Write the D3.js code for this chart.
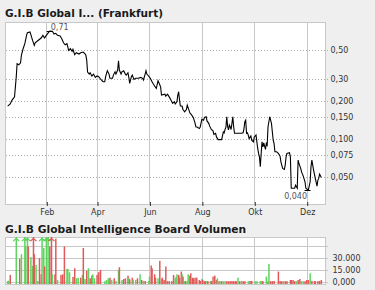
<!DOCTYPE html>
<html>
<head>
<meta charset="utf-8">
<script src="https://cdn.jsdelivr.net/npm/d3@7"></script>
<style>
  body { margin: 0; background: #efefef; }
  text { font-family: "DejaVu Sans", Verdana, sans-serif; }
</style>
</head>
<body>
<div id="chart"></div>
<script>
// price series (Frankfurt)
var priceDates = [
  "2010-12-18","2010-12-21","2010-12-23","2010-12-26","2010-12-28","2010-12-29","2010-12-31",
  "2011-01-02","2011-01-03","2011-01-05","2011-01-07","2011-01-09","2011-01-10","2011-01-13","2011-01-14",
  "2011-01-16","2011-01-18","2011-01-19","2011-01-22","2011-01-26","2011-01-28","2011-01-30",
  "2011-02-01","2011-02-03","2011-02-05","2011-02-08","2011-02-10","2011-02-12","2011-02-14","2011-02-17",
  "2011-02-19","2011-02-21","2011-02-23","2011-02-25","2011-02-27",
  "2011-03-01","2011-03-03","2011-03-04","2011-03-06","2011-03-08","2011-03-11","2011-03-13","2011-03-16",
  "2011-03-18","2011-03-19","2011-03-20","2011-03-21","2011-03-23","2011-03-24","2011-03-26","2011-03-28","2011-03-30",
  "2011-04-01","2011-04-03","2011-04-06","2011-04-08","2011-04-10","2011-04-11","2011-04-13","2011-04-15",
  "2011-04-16","2011-04-19","2011-04-20","2011-04-22","2011-04-23","2011-04-25","2011-04-26","2011-04-27",
  "2011-04-29","2011-04-30",
  "2011-05-02","2011-05-04","2011-05-05","2011-05-07","2011-05-08","2011-05-09","2011-05-11","2011-05-12",
  "2011-05-14","2011-05-16","2011-05-19","2011-05-22","2011-05-24","2011-05-25","2011-05-27","2011-05-28",
  "2011-05-29","2011-05-31",
  "2011-06-02","2011-06-04","2011-06-05","2011-06-07","2011-06-09","2011-06-11","2011-06-12","2011-06-14",
  "2011-06-15","2011-06-19","2011-06-20","2011-06-22","2011-06-24","2011-06-26","2011-06-28","2011-06-30",
  "2011-07-01","2011-07-03","2011-07-04","2011-07-05","2011-07-06","2011-07-07","2011-07-09","2011-07-10",
  "2011-07-12","2011-07-14","2011-07-15","2011-07-17","2011-07-18","2011-07-20","2011-07-22","2011-07-24",
  "2011-07-25","2011-07-27","2011-07-29","2011-07-30","2011-07-31",
  "2011-08-01","2011-08-03","2011-08-04","2011-08-06","2011-08-07","2011-08-09","2011-08-10","2011-08-12",
  "2011-08-14","2011-08-15","2011-08-17","2011-08-18","2011-08-20","2011-08-24","2011-08-25","2011-08-26",
  "2011-08-27","2011-08-28","2011-08-29","2011-08-30","2011-08-31",
  "2011-09-01","2011-09-02","2011-09-03","2011-09-04","2011-09-05","2011-09-06","2011-09-07","2011-09-08",
  "2011-09-12","2011-09-16","2011-09-18","2011-09-19","2011-09-20","2011-09-21","2011-09-22","2011-09-23",
  "2011-09-24","2011-09-25","2011-09-27","2011-09-28","2011-09-30",
  "2011-10-01","2011-10-03","2011-10-04","2011-10-05","2011-10-06","2011-10-07","2011-10-08","2011-10-09",
  "2011-10-10","2011-10-11","2011-10-12","2011-10-14","2011-10-15","2011-10-16","2011-10-17","2011-10-19",
  "2011-10-20","2011-10-21","2011-10-23","2011-10-24","2011-10-25","2011-10-27","2011-10-29","2011-10-31",
  "2011-11-01","2011-11-03","2011-11-05","2011-11-06","2011-11-07","2011-11-08","2011-11-11","2011-11-12",
  "2011-11-13","2011-11-15","2011-11-17","2011-11-18","2011-11-20","2011-11-21","2011-11-22","2011-11-24",
  "2011-11-25","2011-11-27","2011-11-29","2011-11-30",
  "2011-12-02","2011-12-03","2011-12-05","2011-12-06","2011-12-07","2011-12-08","2011-12-09","2011-12-11",
  "2011-12-13","2011-12-14","2011-12-15","2011-12-16","2011-12-18"
];
var priceValues = [
  0.182,0.189,0.202,0.215,0.308,0.392,0.385,
  0.399,0.457,0.515,0.564,0.656,0.688,0.697,0.664,
  0.599,0.547,0.574,0.595,0.625,0.656,0.625,
  0.656,0.684,0.710,0.706,0.672,0.681,0.656,0.648,
  0.617,0.574,0.553,0.564,0.500,
  0.515,0.491,0.509,0.462,0.479,0.468,0.479,0.485,
  0.470,0.457,0.419,0.337,0.325,0.333,0.314,0.325,0.306,
  0.314,0.310,0.292,0.283,0.283,0.310,0.345,0.325,
  0.301,0.301,0.319,0.339,0.325,0.350,0.414,0.350,
  0.325,0.339,
  0.345,0.325,0.319,0.333,0.306,0.275,0.310,0.319,
  0.295,0.301,0.301,0.306,0.301,0.292,0.325,0.345,
  0.325,0.314,
  0.301,0.283,0.275,0.262,0.251,0.288,0.278,0.258,
  0.222,0.226,0.218,0.226,0.215,0.203,0.191,0.197,
  0.189,0.197,0.222,0.236,0.203,0.182,0.182,0.171,
  0.164,0.171,0.185,0.169,0.161,0.155,0.148,0.134,
  0.125,0.124,0.121,0.124,0.133,
  0.143,0.141,0.148,0.150,0.139,0.133,0.127,0.119,
  0.116,0.109,0.111,0.104,0.099,0.099,0.106,0.114,
  0.112,0.119,0.124,0.150,0.125,
  0.118,0.129,0.125,0.119,0.133,0.150,0.125,0.111,
  0.111,0.111,0.112,0.121,0.137,0.141,0.111,0.112,
  0.1075,0.101,0.106,0.098,0.095,
  0.104,0.1075,0.095,0.0845,0.0771,0.0725,0.0605,0.0771,
  0.095,0.0869,0.0934,0.0829,0.0924,0.0897,0.125,0.150,
  0.141,0.133,0.098,0.0924,0.0794,0.0794,0.0771,0.0734,
  0.0662,0.0587,0.0577,0.0624,0.0725,0.0771,0.0780,0.0725,
  0.041,0.041,0.041,0.0434,0.041,0.0683,0.0643,0.0587,
  0.0552,0.0511,0.0461,0.041,
  0.040,0.040,0.0461,0.0605,0.0683,0.0624,0.0570,0.049,
  0.0426,0.0475,0.049,0.053,0.0499
];

// volume series (up = green, down = red)
var volDates = [
  "2010-12-18","2010-12-19","2010-12-21","2010-12-28",
  "2011-01-01","2011-01-03","2011-01-07","2011-01-08","2011-01-10","2011-01-11","2011-01-14","2011-01-16",
  "2011-01-17","2011-01-18","2011-01-20","2011-01-22","2011-01-24","2011-01-26","2011-01-27","2011-01-29","2011-01-30",
  "2011-02-01","2011-02-03","2011-02-05","2011-02-07","2011-02-08","2011-02-11","2011-02-12","2011-02-14",
  "2011-02-18","2011-02-20","2011-02-22","2011-02-25","2011-02-26","2011-02-28",
  "2011-03-04","2011-03-06","2011-03-08","2011-03-10","2011-03-13","2011-03-15","2011-03-16","2011-03-18",
  "2011-03-20","2011-03-22","2011-03-24","2011-03-26","2011-03-27","2011-03-29",
  "2011-04-01","2011-04-03","2011-04-05","2011-04-10","2011-04-12","2011-04-14","2011-04-16","2011-04-18",
  "2011-04-21","2011-04-23","2011-04-26","2011-04-27","2011-04-30",
  "2011-05-02","2011-05-04","2011-05-07","2011-05-08","2011-05-09","2011-05-12","2011-05-13","2011-05-16",
  "2011-05-18","2011-05-21","2011-05-23","2011-05-25","2011-05-27","2011-05-31",
  "2011-06-01","2011-06-03","2011-06-04","2011-06-07","2011-06-08","2011-06-11","2011-06-13","2011-06-15",
  "2011-06-16","2011-06-18","2011-06-20","2011-06-22","2011-06-24","2011-06-27","2011-06-29",
  "2011-07-01","2011-07-02","2011-07-03","2011-07-05","2011-07-06","2011-07-08","2011-07-09","2011-07-10",
  "2011-07-12","2011-07-13","2011-07-15","2011-07-16","2011-07-18","2011-07-19","2011-07-21","2011-07-22",
  "2011-07-24","2011-07-26","2011-07-29","2011-07-30",
  "2011-08-01","2011-08-02","2011-08-04","2011-08-05","2011-08-07","2011-08-08","2011-08-11","2011-08-12",
  "2011-08-14","2011-08-15","2011-08-16","2011-08-18","2011-08-19","2011-08-21","2011-08-22","2011-08-24",
  "2011-08-26","2011-08-28","2011-08-30",
  "2011-09-01","2011-09-03","2011-09-05","2011-09-07","2011-09-09","2011-09-10","2011-09-12","2011-09-14",
  "2011-09-16","2011-09-18","2011-09-20","2011-09-24","2011-09-26","2011-09-28",
  "2011-10-02","2011-10-04","2011-10-08","2011-10-10","2011-10-11","2011-10-15","2011-10-17","2011-10-18",
  "2011-10-20","2011-10-22","2011-10-24","2011-10-29","2011-10-31",
  "2011-11-02","2011-11-04","2011-11-06","2011-11-08","2011-11-12","2011-11-13","2011-11-15","2011-11-17",
  "2011-11-19","2011-11-21","2011-11-23","2011-11-25","2011-11-27","2011-11-29",
  "2011-12-01","2011-12-03","2011-12-05","2011-12-07","2011-12-10","2011-12-11","2011-12-14","2011-12-16",
  "2011-12-18"
];
var volValues = [
  800,1300,8600,70000,
  29100,35100,70000,45000,70000,45000,31300,20000,
  70000,35100,21400,800,30000,9400,70000,42900,19300,
  70000,70000,45000,70000,9400,9400,54900,2100,
  8600,9400,45000,16300,16300,12000,
  6000,17100,4300,5100,5100,8600,42900,3400,
  13700,17100,4300,7700,9400,4300,
  8600,12000,15000,500,2100,4300,5100,2100,
  4300,900,15000,18400,2100,
  3400,4300,7700,4300,3000,5100,2100,2100,
  4300,9400,2100,900,900,900,
  6400,20600,17100,9400,5100,4300,26600,3400,
  5100,2100,19300,600,600,600,8600,
  4300,6400,9400,8600,5100,12900,9400,6400,
  600,600,900,9400,7700,10700,5100,4300,
  5100,5100,2100,900,
  3400,2100,600,600,900,600,600,900,
  6400,3400,7700,2100,4300,600,600,600,
  600,600,600,
  600,600,900,600,600,600,5100,600,
  900,600,600,600,900,900,
  600,600,900,600,600,6400,600,22700,
  600,600,900,12900,900,
  600,600,600,600,2100,2100,2100,600,
  600,2100,3400,600,600,600,
  2100,2100,10700,900,600,600,600,900,
  2100
];
var volUp = [
  1,1,0,1,
  0,1,1,1,1,0,1,1,
  0,0,1,1,0,0,1,1,0,
  1,1,0,0,1,0,0,1,
  0,0,0,1,1,1,
  0,0,1,1,0,1,0,1,
  0,1,0,0,1,1,
  0,0,0,1,1,1,0,1,
  0,1,1,0,1,
  0,0,0,1,0,0,1,1,
  0,1,0,1,0,1,
  1,0,0,0,0,1,0,1,
  0,0,0,0,0,0,0,
  1,1,1,0,0,0,1,0,
  1,0,1,1,0,0,0,0,
  0,0,0,0,
  1,0,0,0,1,0,1,0,
  0,1,0,0,1,0,1,0,
  1,1,0,
  0,0,0,0,0,0,1,0,
  1,0,0,1,0,0,
  1,1,1,0,0,1,0,1,
  0,0,0,0,0,
  0,1,0,0,0,0,0,0,
  1,0,0,1,1,0,
  0,0,1,0,0,0,0,0,
  0
];

// axis ticks and labels
var monthTicks = ["2011-02-01","2011-04-01","2011-06-01","2011-08-01","2011-10-01","2011-12-01"];
var monthLabels = ["Feb","Apr","Jun","Aug","Okt","Dez"];
var priceTicks = [0.5, 0.3, 0.2, 0.15, 0.1, 0.075, 0.05];
var priceTickLabels = ["0,50","0,30","0,200","0,150","0,100","0,075","0,050"];
var volGrid = [45000, 30000, 15000, 0];
var volTicks = [30000, 15000, 0];
var volTickLabels = ["30.000","15.000","0,000"];

// svg and panel dimensions
var svgWidth = 375;
var svgHeight = 290;
var pricePanel = { left: 5, top: 22, width: 320, height: 182 };
var volPanel = { left: 5, top: 237, width: 320, height: 47 };

var gridColor = "#c8c8c8";
var upColor = "#5fd35f";
var downColor = "#e05a5a";

var parseDate = d3.timeParse("%Y-%m-%d");

var priceData = priceDates.map(function(d, i) {
    return { date: parseDate(d), value: priceValues[i] };
});
var volData = volDates.map(function(d, i) {
    return { date: parseDate(d), value: volValues[i], up: volUp[i] };
});
var monthDates = monthTicks.map(parseDate);

var svg = d3.select("#chart")
    .append("svg")
    .attr("width", svgWidth)
    .attr("height", svgHeight);

svg.append("rect")
    .attr("width", svgWidth)
    .attr("height", svgHeight)
    .attr("fill", "#efefef");

// scales
var x = d3.scaleTime()
    .domain([new Date(2010, 11, 14, 22), new Date(2011, 11, 22, 7)])
    .range([0, pricePanel.width]);

var yPrice = d3.scaleLog()
    .domain([0.0308, 0.836])
    .range([pricePanel.height, 0]);

var yVol = d3.scaleLinear()
    .domain([-3000, 57000])
    .range([volPanel.height, 0]);

// titles
svg.append("text")
    .attr("x", 5)
    .attr("y", 16.5)
    .attr("font-size", "10.5px")
    .attr("font-weight", "bold")
    .attr("fill", "#1a1a1a")
    .text("G.I.B Global I... (Frankfurt)");

svg.append("text")
    .attr("x", 5)
    .attr("y", 233.3)
    .attr("font-size", "10.7px")
    .attr("font-weight", "bold")
    .attr("fill", "#1a1a1a")
    .text("G.I.B Global Intelligence Board Volumen");

// ---------- price panel ----------
var priceGroup = svg.append("g")
    .attr("transform", `translate(${pricePanel.left}, ${pricePanel.top})`);

priceGroup.append("rect")
    .attr("x", 0.5)
    .attr("y", 0.5)
    .attr("width", pricePanel.width)
    .attr("height", pricePanel.height)
    .attr("fill", "#fff")
    .attr("stroke", gridColor);

// vertical month grid
priceGroup.selectAll(".vgrid")
    .data(monthDates)
    .enter()
    .append("line")
    .attr("x1", d => Math.round(x(d)) + 0.5)
    .attr("x2", d => Math.round(x(d)) + 0.5)
    .attr("y1", 0)
    .attr("y2", pricePanel.height)
    .attr("stroke", gridColor);

// dotted price grid
priceGroup.selectAll(".hgrid")
    .data(priceTicks)
    .enter()
    .append("line")
    .attr("x1", 1)
    .attr("x2", pricePanel.width + 3)
    .attr("y1", d => Math.round(yPrice(d)) + 0.5)
    .attr("y2", d => Math.round(yPrice(d)) + 0.5)
    .attr("stroke", "#aaa")
    .attr("stroke-dasharray", "1,2");

// price labels on the right
priceGroup.selectAll(".plabel")
    .data(priceTicks)
    .enter()
    .append("text")
    .attr("x", pricePanel.width + 5.5)
    .attr("y", d => Math.round(yPrice(d)) + 0.5)
    .attr("dy", "0.35em")
    .attr("font-size", "8px")
    .attr("fill", "#333")
    .text((d, i) => priceTickLabels[i]);

// month ticks and labels
var xAxis = d3.axisBottom(x)
    .tickValues(monthDates)
    .tickFormat((d, i) => monthLabels[i])
    .tickSize(4)
    .tickPadding(3);

var xAxisGroup = priceGroup.append("g")
    .attr("transform", `translate(0.5, ${pricePanel.height - 2})`)
    .call(xAxis);
xAxisGroup.select(".domain").remove();
xAxisGroup.selectAll("line").attr("stroke", "#333");
xAxisGroup.selectAll("text")
    .attr("font-size", "8px")
    .attr("font-family", "DejaVu Sans, Verdana, sans-serif")
    .attr("fill", "#333");

// clip the price line to the panel
svg.append("clipPath")
    .attr("id", "priceClip")
    .append("rect")
    .attr("width", pricePanel.width)
    .attr("height", pricePanel.height);

var line = d3.line()
    .x(d => x(d.date))
    .y(d => yPrice(d.value));

priceGroup.append("path")
    .datum(priceData)
    .attr("clip-path", "url(#priceClip)")
    .attr("d", line)
    .attr("fill", "none")
    .attr("stroke", "#000")
    .attr("stroke-width", 1.1)
    .attr("stroke-linejoin", "miter");

// high and low markers
var fmt = function(v) {
    return (v >= 0.3 ? d3.format(".2f")(v) : d3.format(".3f")(v)).replace(".", ",");
};
var high = d3.greatest(priceData, d => d.value);
var low = d3.least(priceData, d => d.value);

[high, low].forEach(function(p) {
    priceGroup.append("line")
        .attr("x1", x(p.date) - 3)
        .attr("x2", x(p.date) + 3)
        .attr("y1", Math.round(yPrice(p.value)) + 0.5)
        .attr("y2", Math.round(yPrice(p.value)) + 0.5)
        .attr("stroke", "#000");
});

priceGroup.append("text")
    .attr("x", x(high.date) + 1)
    .attr("y", yPrice(high.value) - 1.5)
    .attr("font-size", "8px")
    .attr("fill", "#555")
    .text(fmt(high.value));

priceGroup.append("text")
    .attr("x", x(low.date) - 0.5)
    .attr("y", yPrice(low.value) + 9.5)
    .attr("text-anchor", "end")
    .attr("font-size", "8px")
    .attr("fill", "#555")
    .text(fmt(low.value));

// ---------- volume panel ----------
var volGroup = svg.append("g")
    .attr("transform", `translate(${volPanel.left}, ${volPanel.top})`);

volGroup.append("rect")
    .attr("x", 0.5)
    .attr("y", 0.5)
    .attr("width", volPanel.width)
    .attr("height", volPanel.height)
    .attr("fill", "#fff")
    .attr("stroke", gridColor);

volGroup.selectAll(".vgrid")
    .data(monthDates)
    .enter()
    .append("line")
    .attr("x1", d => Math.round(x(d)) + 0.5)
    .attr("x2", d => Math.round(x(d)) + 0.5)
    .attr("y1", 0)
    .attr("y2", volPanel.height)
    .attr("stroke", gridColor);

volGroup.selectAll(".hgrid")
    .data(volGrid)
    .enter()
    .append("line")
    .attr("x1", 1)
    .attr("x2", volPanel.width + 3)
    .attr("y1", d => Math.round(yVol(d)) + 0.5)
    .attr("y2", d => Math.round(yVol(d)) + 0.5)
    .attr("stroke", gridColor);

volGroup.selectAll(".vlabel")
    .data(volTicks)
    .enter()
    .append("text")
    .attr("x", volPanel.width + 7.5)
    .attr("y", d => Math.round(yVol(d)) + 0.5)
    .attr("dy", "0.35em")
    .attr("font-size", "8px")
    .attr("fill", "#333")
    .text((d, i) => volTickLabels[i]);

var volMax = yVol.domain()[1];

volGroup.selectAll(".bar")
    .data(volData)
    .enter()
    .append("rect")
    .attr("x", d => x(d.date) - 0.7)
    .attr("width", 1.5)
    .attr("y", d => yVol(Math.min(d.value, volMax)))
    .attr("height", d => volPanel.height - yVol(Math.min(d.value, volMax)))
    .attr("fill", d => d.up ? upColor : downColor);

// arrows for bars that run off the top
volGroup.selectAll(".arrow")
    .data(volData.filter(d => d.value > volMax))
    .enter()
    .append("path")
    .attr("d", d => `M${x(d.date) - 3},${yVol(volMax) + 4} L${x(d.date)},${yVol(volMax) + 1.5} L${x(d.date) + 3},${yVol(volMax) + 4}`)
    .attr("fill", "none")
    .attr("stroke", d => d.up ? upColor : downColor)
    .attr("stroke-width", 1.2);
</script>
</body>
</html>
